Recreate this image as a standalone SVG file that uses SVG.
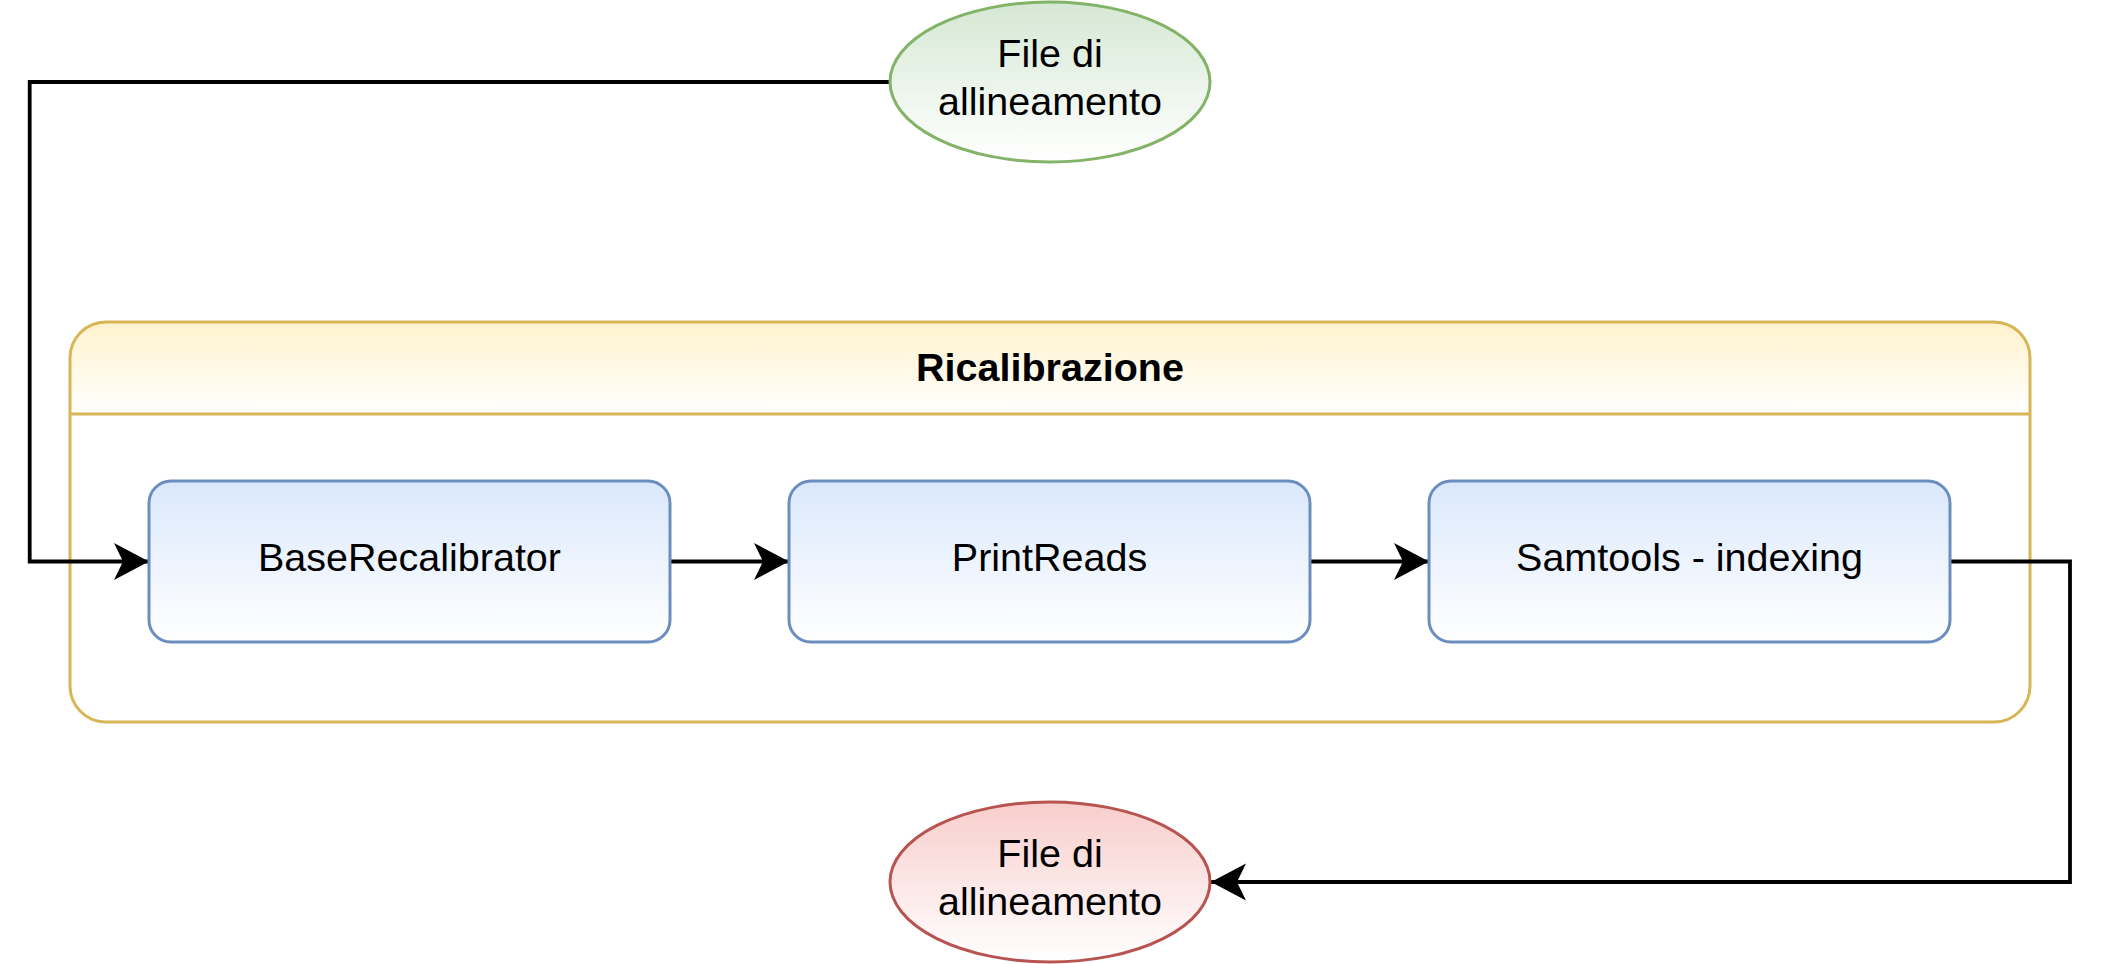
<svg xmlns="http://www.w3.org/2000/svg" width="2104" height="964" viewBox="0 0 2104 964">
<defs>
<linearGradient id="gGreen" x1="0" y1="0" x2="0" y2="1"><stop offset="0" stop-color="#d5e8d4"/><stop offset="1" stop-color="#ffffff"/></linearGradient>
<linearGradient id="gRed" x1="0" y1="0" x2="0" y2="1"><stop offset="0" stop-color="#f8cecc"/><stop offset="1" stop-color="#ffffff"/></linearGradient>
<linearGradient id="gBlue" x1="0" y1="0" x2="0" y2="1"><stop offset="0" stop-color="#dae8fc"/><stop offset="1" stop-color="#ffffff"/></linearGradient>
<linearGradient id="gYellow" x1="0" y1="0" x2="0" y2="1"><stop offset="0" stop-color="#fff2cc"/><stop offset="1" stop-color="#ffffff"/></linearGradient>
<marker id="arr" viewBox="-36 -20 40 40" refX="0" refY="0" markerWidth="40" markerHeight="40" markerUnits="userSpaceOnUse" orient="auto">
<path d="M0,0 L-35,-18.5 L-26,0 L-35,18.5 Z" fill="#000"/>
</marker>
<style>
text { font-family: "Liberation Sans", Arial, sans-serif; font-size: 39.5px; fill: #000; text-anchor: middle; }
.title { font-weight: bold; }
.box { fill: url(#gBlue); stroke: #6c8ebf; stroke-width: 3; }
.edge { fill: none; stroke: #000; stroke-width: 3.8; }
</style>
</defs>
<g id="container">
<path d="M70,414 L70,358 Q70,322 106,322 L1994,322 Q2030,322 2030,358 L2030,414 Z" fill="url(#gYellow)"/>
<rect x="70" y="322" width="1960" height="400" rx="36" ry="36" fill="none" stroke="#d6b656" stroke-width="3"/>
<line x1="70" y1="414" x2="2030" y2="414" stroke="#d6b656" stroke-width="3"/>
<text class="title" x="1050" y="381">Ricalibrazione</text>
</g>
<g id="connectors">
<path class="edge" d="M890,82 L29.7,82 L29.7,561.5 L149,561.5" marker-end="url(#arr)"/>
<path class="edge" d="M670,561.5 L789,561.5" marker-end="url(#arr)"/>
<path class="edge" d="M1310,561.5 L1429,561.5" marker-end="url(#arr)"/>
<path class="edge" d="M1950,561.5 L2070,561.5 L2070,882 L1211,882" marker-end="url(#arr)"/>
</g>
<g id="input">
<ellipse cx="1050" cy="82" rx="160" ry="80" fill="url(#gGreen)" stroke="#82b366" stroke-width="3"/>
<text x="1050" y="67">File di</text>
<text x="1050" y="115">allineamento</text>
</g>
<g id="baserecalibrator">
<rect class="box" x="149" y="481" width="521" height="161" rx="22" ry="22"/>
<text x="409.5" y="571">BaseRecalibrator</text>
</g>
<g id="printreads">
<rect class="box" x="789" y="481" width="521" height="161" rx="22" ry="22"/>
<text x="1049.5" y="571">PrintReads</text>
</g>
<g id="samtools">
<rect class="box" x="1429" y="481" width="521" height="161" rx="22" ry="22"/>
<text x="1689.5" y="571">Samtools - indexing</text>
</g>
<g id="output">
<ellipse cx="1050" cy="882" rx="160" ry="80" fill="url(#gRed)" stroke="#b85450" stroke-width="3"/>
<text x="1050" y="867">File di</text>
<text x="1050" y="915">allineamento</text>
</g>
</svg>
